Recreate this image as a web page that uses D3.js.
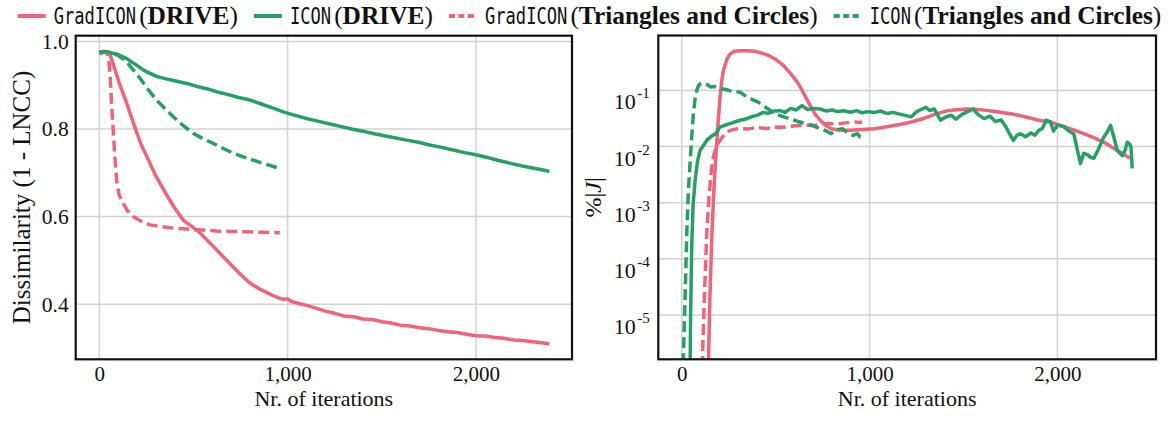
<!DOCTYPE html>
<html>
<head>
<meta charset="utf-8">
<script src="https://cdn.jsdelivr.net/npm/d3@7"></script>
<style>
  body { margin: 0; background: #fff; }
  svg { display: block; }
</style>
</head>
<body>
<div id="chart"></div>
<script>
const W = 1175, H = 421;
const PINK = "#f0647a", GREEN = "#26a065";
const SERIF = "'Liberation Serif', 'Times New Roman', serif";
const MONO = "'DejaVu Sans Mono', monospace";

// ---- left panel: dissimilarity (1 - LNCC) vs iteration, [iteration, value]
const dissGradDrive = [[0,0.975],[20,0.977],[40,0.975],[57,0.97],[80,0.94],[110,0.9],[145,0.86],[180,0.815],
  [219,0.768],[260,0.73],[304,0.69],[350,0.655],[400,0.62],[445,0.592],[490,0.578],[534,0.563],[580,0.543],
  [623,0.524],[670,0.503],[711,0.485],[755,0.466],[800,0.448],[845,0.436],[888,0.427],[930,0.418],[976,0.411],
  [1000,0.412],[1020,0.406],[1065,0.401],[1110,0.396],[1150,0.391],[1200,0.384],[1250,0.379],[1300,0.373],
  [1350,0.371],[1400,0.366],[1450,0.365],[1500,0.36],[1550,0.357],[1600,0.352],[1650,0.35],[1700,0.346],
  [1750,0.344],[1800,0.34],[1850,0.337],[1900,0.335],[1950,0.331],[2000,0.328],[2050,0.327],[2100,0.324],
  [2150,0.322],[2200,0.318],[2250,0.317],[2300,0.314],[2350,0.312],[2390,0.309]];
const dissIconDrive = [[0,0.972],[30,0.976],[60,0.974],[100,0.97],[145,0.961],[190,0.948],[233,0.935],[270,0.927],
  [304,0.92],[350,0.915],[400,0.91],[464,0.904],[520,0.897],[570,0.892],[623,0.885],[680,0.879],[740,0.872],
  [800,0.866],[860,0.857],[920,0.848],[977,0.839],[1040,0.831],[1100,0.824],[1160,0.818],[1220,0.812],
  [1280,0.806],[1340,0.8],[1400,0.795],[1460,0.789],[1520,0.784],[1580,0.779],[1640,0.774],[1700,0.769],
  [1760,0.763],[1820,0.758],[1880,0.752],[1940,0.746],[2000,0.741],[2060,0.735],[2120,0.728],[2180,0.722],
  [2240,0.716],[2300,0.711],[2350,0.707],[2390,0.703]];
const dissGradTri = [[0,0.975],[20,0.977],[40,0.973],[50,0.96],[57,0.928],[65,0.86],[74,0.797],[83,0.735],
  [92,0.683],[105,0.65],[127,0.63],[150,0.613],[180,0.6],[220,0.59],[269,0.581],[330,0.577],[390,0.574],
  [445,0.572],[500,0.57],[560,0.569],[623,0.567],[700,0.566],[780,0.565],[860,0.564],[959,0.563]];
const dissIconTri = [[0,0.975],[30,0.977],[60,0.975],[100,0.968],[145,0.954],[180,0.935],[216,0.916],[260,0.89],
  [304,0.866],[350,0.846],[393,0.828],[445,0.808],[499,0.79],[550,0.778],[605,0.767],[660,0.755],[711,0.745],
  [760,0.737],[817,0.729],[880,0.72],[959,0.71]];

// ---- right panel: %|J| vs iteration, [iteration, value]
const jGradDrive = [[0,1e-7],[130,1e-7],[142,1.5e-6],[150,2.1e-5],[160,2.5e-4],[169,1.26e-3],[178,4.5e-3],
  [186,0.0112],[195,0.032],[204,0.076],[213,0.15],[222,0.229],[240,0.36],[257,0.447],[280,0.5],[311,0.513],
  [349,0.513],[388,0.5],[430,0.46],[466,0.417],[505,0.35],[543,0.275],[580,0.2],[621,0.132],[650,0.088],
  [679,0.0575],[710,0.038],[737,0.0295],[765,0.024],[795,0.0209],[840,0.0198],[892,0.0195],[960,0.0201],
  [1028,0.0209],[1100,0.0228],[1160,0.0248],[1222,0.0275],[1290,0.032],[1350,0.038],[1416,0.0437],
  [1460,0.0455],[1513,0.0468],[1560,0.0462],[1610,0.0447],[1660,0.0428],[1707,0.0407],[1760,0.038],
  [1810,0.0352],[1860,0.032],[1901,0.0295],[1963,0.0275],[2030,0.0228],[2095,0.0195],[2150,0.0165],
  [2200,0.0142],[2250,0.0118],[2289,0.0098],[2340,0.0078],[2386,0.0062]];
const jIconDrive = [[0,1e-7],[40,1e-7],[45,2e-6],[47,1e-5],[53,1.6e-4],[60,9e-4],[71,2.5e-3],[84,5.5e-3],
  [97,8.5e-3],[115,0.0105],[133,0.0129],[160,0.0155],[180,0.017],[204,0.0224],[230,0.024],[260,0.026],
  [290,0.028],[311,0.0295],[340,0.031],[370,0.034],[400,0.036],[434,0.0407],[460,0.039],[490,0.043],
  [524,0.0437],[550,0.041],[580,0.048],[610,0.045],[640,0.0537],[670,0.046],[700,0.048],[737,0.0468],
  [770,0.043],[800,0.045],[830,0.042],[860,0.0437],[900,0.041],[931,0.0437],[960,0.04],[990,0.042],
  [1028,0.0407],[1060,0.043],[1090,0.039],[1125,0.0407],[1160,0.038],[1190,0.036],[1222,0.0339],
  [1250,0.042],[1280,0.0468],[1300,0.05],[1320,0.044],[1345,0.0468],[1377,0.0295],[1400,0.033],
  [1435,0.0363],[1460,0.031],[1490,0.037],[1513,0.0407],[1535,0.044],[1552,0.0468],[1575,0.038],
  [1610,0.0316],[1640,0.035],[1670,0.028],[1700,0.03],[1726,0.0224],[1745,0.017],[1765,0.0129],
  [1785,0.016],[1804,0.017],[1830,0.015],[1860,0.0175],[1880,0.016],[1901,0.0195],[1920,0.021],
  [1940,0.0295],[1963,0.0275],[1979,0.019],[2000,0.024],[2020,0.0235],[2037,0.0224],[2060,0.019],
  [2087,0.017],[2105,0.009],[2123,0.005],[2140,0.0076],[2160,0.0072],[2175,0.0065],[2194,0.0062],
  [2215,0.0085],[2235,0.012],[2247,0.0148],[2265,0.018],[2283,0.024],[2300,0.015],[2319,0.0085],
  [2345,0.0069],[2360,0.0085],[2372,0.012],[2385,0.011],[2392,0.0098],[2398,0.0041]];
const jGradTri = [[0,1e-7],[105,1e-7],[112,3e-6],[122,3e-5],[133,3e-4],[145,1.3e-3],[158,4e-3],[168,6.5e-3],
  [185,0.0102],[204,0.0129],[230,0.017],[257,0.0195],[300,0.021],[349,0.0205],[400,0.0218],[450,0.021],
  [504,0.0224],[560,0.0222],[600,0.0235],[640,0.024],[700,0.0238],[776,0.0257],[830,0.0255],[870,0.0265],
  [912,0.0275],[960,0.027]];
const jIconTri = [[0,1e-7],[5,1e-7],[9,2e-6],[15,1e-5],[27,3.2e-4],[35,1.6e-3],[44,5e-3],[53,0.015],[62,0.039],
  [71,0.072],[80,0.1],[90,0.125],[100,0.132],[115,0.135],[135,0.128],[155,0.115],[175,0.118],[204,0.107],
  [230,0.105],[252,0.1],[280,0.096],[311,0.093],[349,0.076],[380,0.068],[407,0.062],[440,0.052],[485,0.041],
  [510,0.037],[543,0.0339],[580,0.031],[620,0.028],[660,0.0257],[700,0.0235],[737,0.0209],[770,0.019],
  [795,0.017],[820,0.0195],[854,0.0209],[880,0.018],[912,0.0158],[935,0.017],[950,0.0148],[960,0.015]];

const xTicks = [0, 1000, 2000];
const dissTicks = [0.4, 0.6, 0.8, 1.0];
const jExponents = [-1, -2, -3, -4, -5];

const legendItems = [
  { mono: "GradICON", label: "DRIVE", color: PINK, dashed: false },
  { mono: "ICON", label: "DRIVE", color: GREEN, dashed: false },
  { mono: "GradICON", label: "Triangles and Circles", color: PINK, dashed: true },
  { mono: "ICON", label: "Triangles and Circles", color: GREEN, dashed: true }
];

const svg = d3.select("#chart").append("svg").attr("width", W).attr("height", H);

const left = { x0: 75.7, x1: 572, y0: 35.7, y1: 359.3 };
const right = { x0: 658.3, x1: 1156, y0: 35.5, y1: 359.3 };

const xL = d3.scaleLinear().domain([-125, 2510]).range([left.x0, left.x1]);
const yL = d3.scaleLinear().domain([0.274, 1.013]).range([left.y1, left.y0]);
const xR = d3.scaleLinear().domain([-125, 2525]).range([right.x0, right.x1]);
const yR = d3.scaleLog().domain([Math.pow(10, -5.79), Math.pow(10, -0.02)]).range([right.y1, right.y0]);

function drawPanel(box, x, y, yGrid, series, id) {
  const g = svg.append("g");
  svg.append("clipPath").attr("id", id).append("rect")
    .attr("x", box.x0).attr("y", box.y0).attr("width", box.x1 - box.x0).attr("height", box.y1 - box.y0);

  g.append("g").selectAll("line").data(xTicks).join("line")
    .attr("x1", d => x(d)).attr("x2", d => x(d)).attr("y1", box.y0).attr("y2", box.y1)
    .attr("stroke", "#d2d2d2").attr("stroke-width", 1.5);
  g.append("g").selectAll("line").data(yGrid).join("line")
    .attr("x1", box.x0).attr("x2", box.x1).attr("y1", d => y(d)).attr("y2", d => y(d))
    .attr("stroke", "#d2d2d2").attr("stroke-width", 1.5);

  const line = d3.line().x(d => x(d[0])).y(d => y(d[1]));
  g.append("g").attr("clip-path", `url(#${id})`).selectAll("path").data(series).join("path")
    .attr("d", d => line(d.data))
    .attr("fill", "none")
    .attr("stroke", d => d.color)
    .attr("stroke-width", 3.5)
    .attr("stroke-linejoin", "round")
    .attr("stroke-dasharray", d => d.dashed ? "11,5" : null);

  g.append("rect").attr("x", box.x0).attr("y", box.y0)
    .attr("width", box.x1 - box.x0).attr("height", box.y1 - box.y0)
    .attr("fill", "none").attr("stroke", "#111").attr("stroke-width", 2.2);

  // x tick labels and title
  const xAxis = d3.axisBottom(x).tickValues(xTicks).tickFormat(d3.format(",")).tickSize(0).tickPadding(6.8);
  const ax = g.append("g").attr("transform", `translate(0,${box.y1})`).call(xAxis);
  ax.select(".domain").remove();
  ax.selectAll("text").attr("font-family", SERIF).attr("font-size", 21).attr("fill", "#111");
  g.append("text").attr("x", (box.x0 + box.x1) / 2).attr("y", 406)
    .attr("text-anchor", "middle").attr("font-family", SERIF).attr("font-size", 22).attr("fill", "#111")
    .text("Nr. of iterations");
  return g;
}

const pL = drawPanel(left, xL, yL, dissTicks, [
  { data: dissGradDrive, color: PINK, dashed: false },
  { data: dissIconDrive, color: GREEN, dashed: false },
  { data: dissGradTri, color: PINK, dashed: true },
  { data: dissIconTri, color: GREEN, dashed: true }
], "clipL");

const yAxisL = d3.axisLeft(yL).tickValues(dissTicks).tickFormat(d3.format(".1f")).tickSize(0).tickPadding(7);
const ayL = pL.append("g").attr("transform", `translate(${left.x0},0)`).call(yAxisL);
ayL.select(".domain").remove();
ayL.selectAll("text").attr("font-family", SERIF).attr("font-size", 21.5).attr("fill", "#111");
pL.append("text")
  .attr("transform", `translate(30,${(left.y0 + left.y1) / 2}) rotate(-90)`)
  .attr("text-anchor", "middle").attr("font-family", SERIF).attr("font-size", 25).attr("fill", "#111")
  .text("Dissimilarity (1 - LNCC)");

const pR = drawPanel(right, xR, yR, jExponents.map(e => Math.pow(10, e)), [
  { data: jGradDrive, color: PINK, dashed: false },
  { data: jIconDrive, color: GREEN, dashed: false },
  { data: jGradTri, color: PINK, dashed: true },
  { data: jIconTri, color: GREEN, dashed: true }
], "clipR");

// log tick labels: "10" with a raised exponent
const rt = pR.append("g").selectAll("g").data(jExponents).join("g")
  .attr("transform", e => `translate(${right.x0},${yR(Math.pow(10, e))})`);
rt.append("text").attr("x", -22.5).attr("y", 19).attr("text-anchor", "end")
  .attr("font-family", SERIF).attr("font-size", 22).attr("fill", "#111").text("10");
rt.append("text").attr("x", -21).attr("y", 8).attr("text-anchor", "start")
  .attr("font-family", SERIF).attr("font-size", 15).attr("fill", "#111").text(e => String(e));

const yTitleR = pR.append("text")
  .attr("transform", `translate(601,${(right.y0 + right.y1) / 2}) rotate(-90)`)
  .attr("text-anchor", "middle").attr("font-family", SERIF).attr("font-size", 24).attr("fill", "#111");
yTitleR.append("tspan").text("%|");
yTitleR.append("tspan").attr("font-style", "italic").text("J");
yTitleR.append("tspan").text("|");

// legend: condensed mono name + serif bold dataset
const lg = svg.append("g");
const monoScale = 0.745;
let cx = 0;
legendItems.forEach(it => {
  lg.append("line").attr("x1", cx).attr("x2", cx + 28).attr("y1", 16).attr("y2", 16)
    .attr("stroke", it.color).attr("stroke-width", 4)
    .attr("stroke-dasharray", it.dashed ? "6,3.5" : null);
  cx += 36;
  const m = lg.append("text").attr("transform", `translate(${cx},24) scale(${monoScale},1)`)
    .attr("font-family", MONO).attr("font-size", 23).attr("fill", "#111").text(it.mono);
  cx += m.node().getComputedTextLength() * monoScale + 3;
  const t = lg.append("text").attr("x", cx).attr("y", 24).attr("font-family", SERIF)
    .attr("font-size", 25.4).attr("fill", "#111");
  t.append("tspan").text("(");
  t.append("tspan").attr("font-weight", "bold").text(it.label);
  t.append("tspan").text(")");
  cx += t.node().getComputedTextLength() + 16;
});
const lgW = cx - 16;
lg.attr("transform", `translate(${(W - lgW) / 2 + 2},0)`);
</script>
</body>
</html>
